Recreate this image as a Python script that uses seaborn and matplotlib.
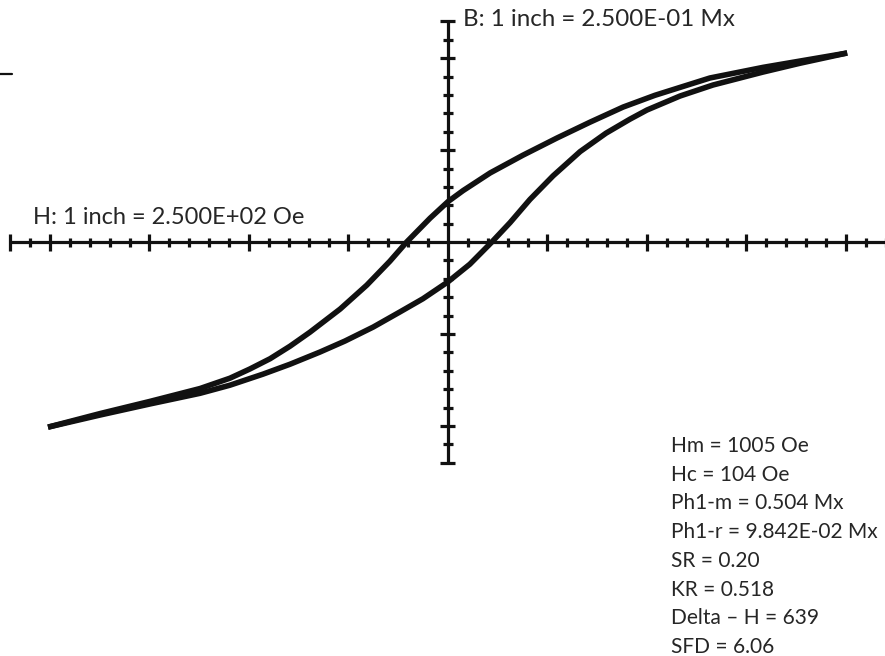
import numpy as np
import pandas as pd
import matplotlib
matplotlib.use("Agg")
import matplotlib.pyplot as plt
import seaborn as sns

# ─── data (H in Oe, B in Mx) ──────────────────────────────────────────────
# descending branch: +Hm -> -Hm
desc_h = [1003, 884, 792, 658, 520, 440, 357, 274, 188, 106, 38, 0, -45,
          -104, -146, -204, -271, -347, -397, -447, -498, -548, -623, -749,
          -874, -1005]
desc_b = [0.514, 0.492, 0.475, 0.446, 0.399, 0.367, 0.326, 0.283, 0.236,
          0.188, 0.140, 0.110, 0.065, 0.000, -0.052, -0.117, -0.182, -0.245,
          -0.283, -0.317, -0.345, -0.370, -0.398, -0.433, -0.466, -0.503]

# ascending branch: -Hm -> +Hm
asc_h = [-1005, -874, -749, -623, -548, -465, -397, -322, -259, -188, -121,
         -63, 0, 55, 110, 156, 206, 264, 332, 397, 457, 500, 583, 666, 791,
         884, 1003]
asc_b = [-0.503, -0.470, -0.440, -0.411, -0.389, -0.359, -0.332, -0.299,
         -0.269, -0.231, -0.190, -0.154, -0.108, -0.060, 0.000, 0.053, 0.116,
         0.180, 0.246, 0.296, 0.334, 0.359, 0.397, 0.427, 0.462, 0.486, 0.514]

stub_h = [-1125, -1095]
stub_b = [0.457, 0.457]

h_ticks = np.arange(-1100, 1101, 50)
b_ticks = np.arange(-0.60, 0.601, 0.05)

h_label = "H: 1 inch = 2.500E+02 Oe"
b_label = "B: 1 inch = 2.500E-01 Mx"
stats_lines = ["Hm = 1005 Oe", "Hc = 104 Oe", "Ph1-m = 0.504 Mx",
               "Ph1-r = 9.842E-02 Mx", "SR = 0.20", "KR = 0.518",
               "Delta \u2013 H = 639", "SFD = 6.06"]

# ─── figure ───────────────────────────────────────────────────────────────
sns.set_style("white")
plt.rcParams["font.family"] = ["Lato", "DejaVu Sans"]

fig = plt.figure(figsize=(8.85, 6.56), dpi=100)
ax = fig.add_axes([0, 0, 1, 1])
ax.set_xlim(-1125.6, 1098)
ax.set_ylim(-1.125, 0.658)
ax.axis("off")

ink = "#111111"

# loop branches
loop = pd.concat([
    pd.DataFrame({"H": desc_h, "B": desc_b, "branch": "desc"}),
    pd.DataFrame({"H": asc_h, "B": asc_b, "branch": "asc"}),
])
sns.lineplot(data=loop, x="H", y="B", units="branch", estimator=None,
             sort=False, color=ink, lw=4.0, ax=ax, solid_capstyle="butt",
             solid_joinstyle="round")

# axis lines
ax.plot([h_ticks[0], 1200], [0, 0], color=ink, lw=2.3, solid_capstyle="butt")
ax.plot([0, 0], [b_ticks[0], b_ticks[-1]], color=ink, lw=2.3,
        solid_capstyle="butt")

# tick marks (px -> data: 0.398 px/Oe, 368 px/Mx)
for h in h_ticks:
    if h == 0:
        continue
    major = np.isclose(h % 250, 0) or h == h_ticks[0]
    half = (8.5 if major else 4.5) / 368
    ax.plot([h, h], [-half, half], color=ink, lw=2.3, solid_capstyle="butt")

for b in b_ticks:
    if np.isclose(b, 0):
        continue
    major = np.isclose(round(b / 0.25) * 0.25, b) or np.isclose(abs(b), 0.6)
    half = (7.5 if major else 5.0) / 0.398
    ax.plot([-half, half], [b, b], color=ink, lw=2.3, solid_capstyle="butt")

ax.plot(stub_h, stub_b, color=ink, lw=1.6)

# labels
txt = "#262626"
fig.text(463 / 885, 1 - 20 / 656, b_label, fontsize=17.4, color=txt,
         ha="left", va="center")
fig.text(33 / 885, 1 - 218 / 656, h_label, fontsize=17, color=txt,
         ha="left", va="center")
for i, line in enumerate(stats_lines):
    fig.text(671 / 885, 1 - (446 + i * 28.7) / 656, line, fontsize=15,
             color=txt, ha="left", va="center")

fig.savefig("out.png", dpi=100)
